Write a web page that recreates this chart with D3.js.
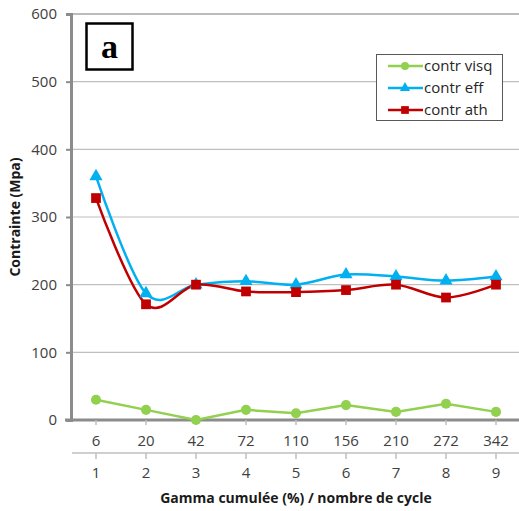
<!DOCTYPE html>
<html><head><meta charset="utf-8">
<script src="https://cdn.jsdelivr.net/npm/d3@7"></script>
<style>body{margin:0;background:#fff}svg{display:block}</style>
</head><body>
<svg id="c" width="519" height="511"></svg>
<script>
const gammaLabels = ["6","20","42","72","110","156","210","272","342"];
const cycleLabels = ["1","2","3","4","5","6","7","8","9"];
const visq = [30, 15, 0, 15, 10, 22, 12, 24, 12];
const eff  = [360, 187, 200, 205, 200, 215, 212, 206, 212];
const ath  = [328, 171, 200, 190, 189, 192, 200, 181, 200];
const yTicks = [0,100,200,300,400,500,600];
const seriesNames = ["contr visq","contr eff","contr ath"];
const colors = ["#92d050","#00b0f0","#c00000"];

const svg = d3.select("#c");
const pLeft = 71, pRight = 521, pTop = 14, pBottom = 420;
const font = "'Open Sans', 'Liberation Sans', sans-serif";
const x = d3.scaleBand().domain(cycleLabels).range([pLeft, pRight]);
const y = d3.scaleLinear().domain([0,600]).range([pBottom, pTop]);
const cx = i => x(cycleLabels[i]) + x.bandwidth()/2;

// gridlines
svg.append("g").selectAll("line").data(yTicks.filter(d=>d>0)).join("line")
  .attr("x1", pLeft-2).attr("x2", 519).attr("y1", d=>y(d)).attr("y2", d=>y(d))
  .attr("stroke", d=> d===600 ? "#a6a6a6" : "#bfbfbf").attr("stroke-width", d=>d===600?1.5:1.2);

// y axis
const yAxis = d3.axisLeft(y).tickValues(yTicks).tickSize(5).tickPadding(9);
const gy = svg.append("g").attr("transform", `translate(${pLeft},0)`).call(yAxis);
gy.select(".domain").attr("stroke","#8c8c8c").attr("stroke-width",3);
gy.selectAll(".tick line").attr("stroke","#8c8c8c").attr("stroke-width",2);
gy.selectAll(".tick text").attr("font-family",font).attr("font-size",15).attr("fill","#404040");

// x axis
svg.append("line").attr("x1",pLeft-6).attr("x2",519).attr("y1",pBottom).attr("y2",pBottom)
  .attr("stroke","#8c8c8c").attr("stroke-width",3);
svg.append("g").selectAll("line").data(cycleLabels).join("line")
  .attr("x1",(d,i)=>cx(i)).attr("x2",(d,i)=>cx(i)).attr("y1",pBottom).attr("y2",pBottom+5)
  .attr("stroke","#bfbfbf").attr("stroke-width",1.5);
svg.append("g").selectAll("text").data(gammaLabels).join("text")
  .attr("x",(d,i)=>cx(i)).attr("y",446).attr("text-anchor","middle")
  .attr("font-family",font).attr("font-size",15).attr("fill","#404040").text(d=>d);
svg.append("line").attr("x1",pLeft+1).attr("x2",519).attr("y1",453).attr("y2",453)
  .attr("stroke","#bfbfbf").attr("stroke-width",1.5);
svg.append("g").selectAll("line").data(cycleLabels).join("line")
  .attr("x1",(d,i)=>cx(i)).attr("x2",(d,i)=>cx(i)).attr("y1",453).attr("y2",459)
  .attr("stroke","#bfbfbf").attr("stroke-width",1.5);
svg.append("g").selectAll("text").data(cycleLabels).join("text")
  .attr("x",(d,i)=>cx(i)).attr("y",478).attr("text-anchor","middle")
  .attr("font-family",font).attr("font-size",15).attr("fill","#404040").text(d=>d);

// axis titles
svg.append("text").attr("x",296).attr("y",503).attr("text-anchor","middle")
  .attr("font-family",font).attr("font-weight","bold").attr("font-size",14).attr("fill","#1a1a1a")
  .text("Gamma cumulée (%) / nombre de cycle");
svg.append("text").attr("transform","translate(20,217) rotate(-90)").attr("text-anchor","middle")
  .attr("font-family",font).attr("font-weight","bold").attr("font-size",14).attr("fill","#1a1a1a")
  .text("Contrainte (Mpa)");

// lines
const linStraight = d3.line().x((d,i)=>cx(i)).y(d=>y(d));
const linSmooth = d3.line().x((d,i)=>cx(i)).y(d=>y(d)).curve(d3.curveCatmullRom.alpha(0));
svg.append("path").attr("d",linStraight(visq)).attr("fill","none").attr("stroke",colors[0]).attr("stroke-width",2.5);
svg.append("path").attr("d",linSmooth(eff)).attr("fill","none").attr("stroke",colors[1]).attr("stroke-width",2.5);
svg.append("path").attr("d",linSmooth(ath)).attr("fill","none").attr("stroke",colors[2]).attr("stroke-width",2.5);

const sym = [d3.symbolCircle, d3.symbolTriangle, d3.symbolSquare];
function marker(g, k, px, py, size){
  g.append("path").attr("d", d3.symbol().type(sym[k]).size(size)())
    .attr("transform",`translate(${px},${py})`).attr("fill",colors[k]);
}
const mk = svg.append("g");
[visq, eff, ath].forEach((arr,k)=>{
  arr.forEach((v,i)=> marker(mk, k, cx(i), y(v), k===0?80:(k===1?75:95)));
});

// legend
const lg = svg.append("g");
lg.append("rect").attr("x",376.5).attr("y",54.5).attr("width",126).attr("height",66)
  .attr("fill","#fff").attr("stroke","#595959").attr("stroke-width",1);
seriesNames.forEach((n,k)=>{
  const yy = 66 + k*22;
  lg.append("line").attr("x1",388).attr("x2",423).attr("y1",yy).attr("y2",yy)
    .attr("stroke",colors[k]).attr("stroke-width",2.5);
  marker(lg, k, 405, yy, k===0?50:(k===1?45:60));
  lg.append("text").attr("x",424).attr("y",yy+5).attr("font-family",font)
    .attr("font-size",15).attr("fill","#262626").text(n);
});

// "a" label box
svg.append("rect").attr("x",86.5).attr("y",23.5).attr("width",46).attr("height",46)
  .attr("fill","#fff").attr("stroke","#000").attr("stroke-width",2.5);
svg.append("text").attr("x",109.5).attr("y",58).attr("text-anchor","middle")
  .attr("font-family","'Liberation Serif','Times New Roman',serif").attr("font-weight","bold")
  .attr("font-size",34).attr("fill","#000").text("a");
</script>
</body></html>
